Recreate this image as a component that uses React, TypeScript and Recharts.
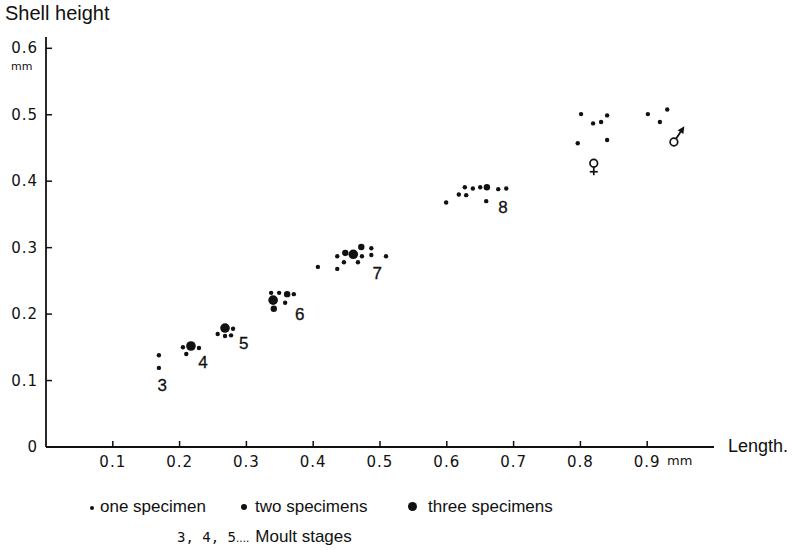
import React from 'react';
import { ScatterChart, Scatter, XAxis, YAxis } from 'recharts';

const xTicks = [0.1, 0.2, 0.3, 0.4, 0.5, 0.6, 0.7, 0.8, 0.9];
const xTickLabels = ['0.1', '0.2', '0.3', '0.4', '0.5', '0.6', '0.7', '0.8', '0.9'];
const yTicks = [0, 0.1, 0.2, 0.3, 0.4, 0.5, 0.6];
const yTickLabels = ['0', '0.1', '0.2', '0.3', '0.4', '0.5', '0.6'];

// one specimen per point
const oneSpecimen = [
  { x: 0.169, y: 0.138 }, { x: 0.169, y: 0.119 },
  { x: 0.205, y: 0.150 }, { x: 0.229, y: 0.149 }, { x: 0.210, y: 0.140 },
  { x: 0.257, y: 0.170 }, { x: 0.268, y: 0.167 }, { x: 0.277, y: 0.168 }, { x: 0.280, y: 0.178 },
  { x: 0.337, y: 0.232 }, { x: 0.349, y: 0.232 }, { x: 0.371, y: 0.230 }, { x: 0.358, y: 0.217 },
  { x: 0.407, y: 0.271 }, { x: 0.436, y: 0.268 }, { x: 0.436, y: 0.287 }, { x: 0.446, y: 0.278 },
  { x: 0.473, y: 0.287 }, { x: 0.467, y: 0.278 }, { x: 0.487, y: 0.299 }, { x: 0.487, y: 0.289 },
  { x: 0.509, y: 0.287 },
  { x: 0.599, y: 0.368 }, { x: 0.618, y: 0.380 }, { x: 0.629, y: 0.379 }, { x: 0.627, y: 0.391 },
  { x: 0.639, y: 0.389 }, { x: 0.650, y: 0.391 }, { x: 0.659, y: 0.370 }, { x: 0.677, y: 0.388 },
  { x: 0.689, y: 0.389 },
  { x: 0.801, y: 0.501 }, { x: 0.819, y: 0.487 }, { x: 0.831, y: 0.489 }, { x: 0.840, y: 0.499 },
  { x: 0.796, y: 0.457 }, { x: 0.840, y: 0.462 },
  { x: 0.901, y: 0.501 }, { x: 0.930, y: 0.508 }, { x: 0.919, y: 0.489 },
];

const twoSpecimens = [
  { x: 0.361, y: 0.230 }, { x: 0.341, y: 0.208 },
  { x: 0.448, y: 0.292 }, { x: 0.472, y: 0.301 },
  { x: 0.660, y: 0.391 },
];

const threeSpecimens = [
  { x: 0.217, y: 0.152 },
  { x: 0.268, y: 0.179 },
  { x: 0.340, y: 0.221 },
  { x: 0.460, y: 0.290 },
];

const stageLabels = [
  { x: 0.174, y: 0.093, label: '3' },
  { x: 0.235, y: 0.128, label: '4' },
  { x: 0.296, y: 0.156, label: '5' },
  { x: 0.380, y: 0.200, label: '6' },
  { x: 0.496, y: 0.262, label: '7' },
  { x: 0.684, y: 0.361, label: '8' },
];

const femaleAdult = [{ x: 0.820, y: 0.427 }];
const maleAdult = [{ x: 0.940, y: 0.459 }];

const INK = '#111';
const tickFont = '"DejaVu Sans", sans-serif';
const textFont = '"Liberation Sans", Arial, sans-serif';

const XTick = (props: any) => {
  const { x, y, payload } = props;
  const i = xTicks.indexOf(payload.value);
  return (
    <g>
      <line x1={x} y1={y} x2={x} y2={y - 6} stroke={INK} strokeWidth={1.5} />
      <text x={x} y={y + 20} textAnchor="middle" fontFamily={tickFont} fontSize={15} letterSpacing={1} fill={INK}>
        {i >= 0 ? xTickLabels[i] : ''}
      </text>
    </g>
  );
};

const YTick = (props: any) => {
  const { x, y, payload } = props;
  const i = yTicks.indexOf(payload.value);
  return (
    <g>
      {payload.value !== 0 && <line x1={x} y1={y} x2={x + 6} y2={y} stroke={INK} strokeWidth={1.5} />}
      <text x={x - 8} y={y + 5} textAnchor="end" fontFamily={tickFont} fontSize={15} letterSpacing={1} fill={INK}>
        {i >= 0 ? yTickLabels[i] : ''}
      </text>
    </g>
  );
};

const dot = (r: number) => (p: any) => <circle cx={p.cx} cy={p.cy} r={r} fill={INK} />;

const StageLabel = (p: any) => (
  <text x={p.cx} y={p.cy + 6} textAnchor="middle" fontFamily={textFont} fontSize={17} fill={INK}
    stroke={INK} strokeWidth={0.3}>
    {p.payload.label}
  </text>
);

const FemaleShape = (p: any) => (
  <g stroke={INK} strokeWidth={1.7} fill="none">
    <circle cx={p.cx} cy={p.cy} r={3.8} />
    <line x1={p.cx} y1={p.cy + 3.8} x2={p.cx} y2={p.cy + 12} />
    <line x1={p.cx - 4} y1={p.cy + 8.5} x2={p.cx + 4} y2={p.cy + 8.5} />
  </g>
);

const MaleShape = (p: any) => {
  const dx = 0.55, dy = -0.83;
  const sx = p.cx + dx * 3.8, sy = p.cy + dy * 3.8;
  const tx = p.cx + dx * 19, ty = p.cy + dy * 19;
  const bx = p.cx + dx * 12, by = p.cy + dy * 12;
  const nx = -dy, ny = dx;
  return (
    <g>
      <circle cx={p.cx} cy={p.cy} r={3.8} stroke={INK} strokeWidth={1.7} fill="#fff" />
      <line x1={sx} y1={sy} x2={bx} y2={by} stroke={INK} strokeWidth={1.8} />
      <polygon
        points={`${tx},${ty} ${bx + nx * 3.4},${by + ny * 3.4} ${bx - nx * 3.4},${by - ny * 3.4}`}
        fill={INK}
      />
    </g>
  );
};

export default function App() {
  return (
    <div style={{ position: 'absolute', left: 0, top: 0, width: 796, height: 550, background: '#fff' }}>
      <ScatterChart width={796} height={550} margin={{ top: 37, right: 82, bottom: 73, left: 6 }}>
        <XAxis
          type="number"
          dataKey="x"
          domain={[0, 1]}
          ticks={xTicks}
          tick={<XTick />}
          tickLine={false}
          tickSize={0}
          tickMargin={0}
          axisLine={{ stroke: INK, strokeWidth: 1.8 }}
          height={30}
          allowDataOverflow
          interval={0}
        />
        <YAxis
          type="number"
          dataKey="y"
          domain={[0, 0.617]}
          ticks={yTicks}
          tick={<YTick />}
          tickLine={false}
          tickSize={0}
          tickMargin={0}
          axisLine={{ stroke: INK, strokeWidth: 1.8 }}
          width={40}
          allowDataOverflow
          interval={0}
        />
        <Scatter data={oneSpecimen} shape={dot(2.2)} isAnimationActive={false} />
        <Scatter data={twoSpecimens} shape={dot(3.2)} isAnimationActive={false} />
        <Scatter data={threeSpecimens} shape={dot(4.8)} isAnimationActive={false} />
        <Scatter data={stageLabels} shape={StageLabel} isAnimationActive={false} />
        <Scatter data={femaleAdult} shape={FemaleShape} isAnimationActive={false} />
        <Scatter data={maleAdult} shape={MaleShape} isAnimationActive={false} />
      </ScatterChart>

      <div style={{ position: 'absolute', left: 5, top: 2, fontFamily: textFont, fontSize: 20, color: INK, whiteSpace: 'nowrap' }}>
        Shell height
      </div>
      <div style={{ position: 'absolute', left: 11, top: 60, fontFamily: tickFont, fontSize: 11, color: INK }}>mm</div>
      <div style={{ position: 'absolute', left: 667, top: 453, fontFamily: tickFont, fontSize: 13, color: INK }}>mm</div>
      <div style={{ position: 'absolute', left: 728, top: 436, fontFamily: textFont, fontSize: 18, color: INK }}>Length.</div>

      <div style={{ position: 'absolute', left: 0, top: 496, width: 796, height: 24, fontFamily: textFont, fontSize: 17, color: INK }}>
        <span style={{ position: 'absolute', left: 90, top: 10, width: 4, height: 4, borderRadius: 2, background: INK }} />
        <span style={{ position: 'absolute', left: 100, top: 1 }}>one specimen</span>
        <span style={{ position: 'absolute', left: 241, top: 8, width: 6, height: 6, borderRadius: 3, background: INK }} />
        <span style={{ position: 'absolute', left: 255, top: 1 }}>two specimens</span>
        <span style={{ position: 'absolute', left: 408, top: 6, width: 9, height: 9, borderRadius: 5, background: INK }} />
        <span style={{ position: 'absolute', left: 428, top: 1 }}>three specimens</span>
      </div>
      <div style={{ position: 'absolute', left: 177, top: 527, fontSize: 17, color: INK, whiteSpace: 'nowrap' }}>
        <span style={{ fontFamily: '"DejaVu Sans Mono", monospace', fontSize: 14 }}>3, 4, 5</span>
        <span style={{ fontFamily: textFont, fontSize: 12 }}>....</span>
        <span style={{ fontFamily: textFont, marginLeft: 6 }}>Moult stages</span>
      </div>
    </div>
  );
}
